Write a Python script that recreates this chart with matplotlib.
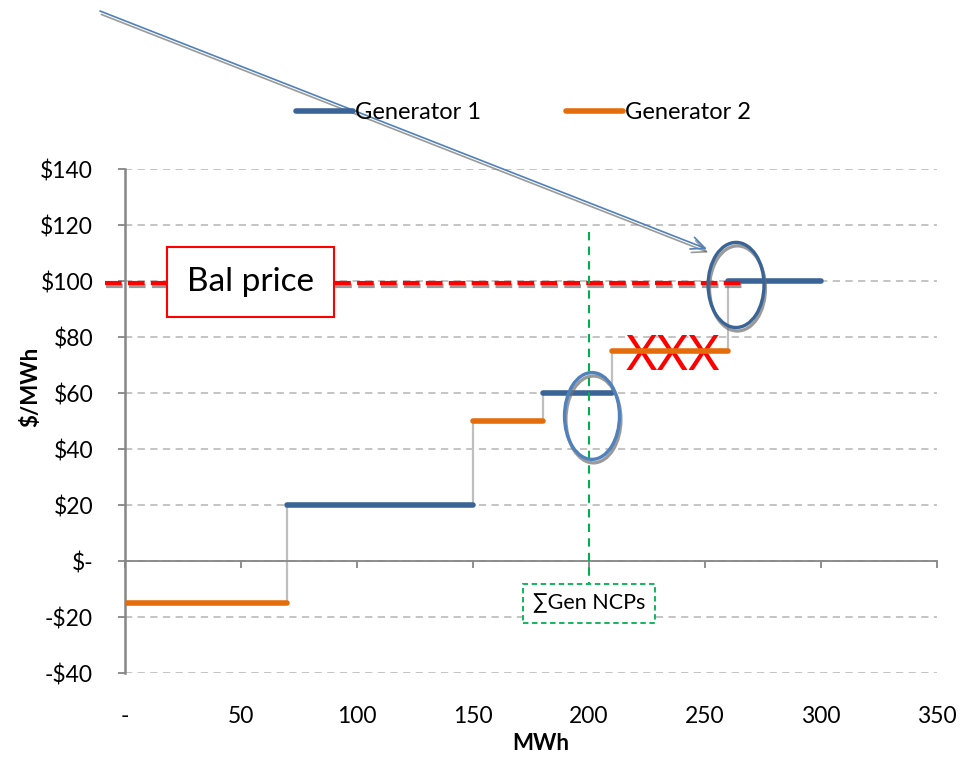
import numpy as np
import matplotlib
matplotlib.use("Agg")
import matplotlib.pyplot as plt
import matplotlib.patheffects as pe
from matplotlib.patches import Ellipse

plt.rcParams['font.family'] = ['Lato', 'DejaVu Sans']

# supply offers: (start MWh, end MWh, price $/MWh)
gen1_offers = [(70, 150, 20), (180, 210, 60), (260, 300, 100)]
gen2_offers = [(0, 70, -15), (150, 180, 50), (210, 260, 75)]
bal_price = 100
sum_ncp = 200

xticks = [0, 50, 100, 150, 200, 250, 300, 350]
xlabels = ["-", "50", "100", "150", "200", "250", "300", "350"]
yticks = [-40, -20, 0, 20, 40, 60, 80, 100, 120, 140]
ylabels = ["-$40", "-$20", "$-", "$20", "$40", "$60", "$80", "$100", "$120", "$140"]

c1 = "#3A6396"
c2 = "#E46C0A"
grid_c = "#BFBFBF"
axis_c = "#868686"

fig = plt.figure(figsize=(9.77, 7.59), dpi=100)
ax = fig.add_axes([0.128, 0.1133, 0.831, 0.664])
ax.set_xlim(0, 350)
ax.set_ylim(-40, 140)

# gridlines
ax.set_yticks(yticks)
ax.set_yticklabels(ylabels)
ax.yaxis.grid(True, color=grid_c, linestyle=(0, (4, 3)), linewidth=1.3)
ax.set_axisbelow(True)

for s in ["top", "right"]:
    ax.spines[s].set_visible(False)
ax.spines["left"].set_color(axis_c)
ax.spines["left"].set_linewidth(1.8)
ax.spines["bottom"].set_position(("data", 0))
ax.spines["bottom"].set_color(axis_c)
ax.spines["bottom"].set_linewidth(1.3)
ax.tick_params(axis="y", colors=axis_c, length=5, width=1.3, pad=18,
               labelcolor="black", labelsize=16.5)
ax.set_xticks(xticks)
ax.tick_params(axis="x", colors=axis_c, length=5, width=1.3, labelbottom=False)

# tick labels sit at the bottom of the plot area
sec = ax.secondary_xaxis(0)
sec.set_xticks(xticks)
sec.set_xticklabels(xlabels)
sec.spines["bottom"].set_visible(False)
sec.tick_params(length=0, pad=24, labelsize=16.5)
sec.set_xlabel("MWh", fontsize=16, fontweight="bold", labelpad=4)
sec.xaxis.label.set_x(0.512)
ax.set_ylabel("$/MWh", fontsize=16, fontweight="bold")
ax.yaxis.set_label_coords(-0.103, 0.567)

# grey risers between steps of the combined stack
offers = sorted(gen1_offers + gen2_offers)
for prev, nxt in zip(offers[:-1], offers[1:]):
    ax.plot([prev[1], nxt[0]], [prev[2], nxt[2]], color=grid_c, lw=1.6, zorder=2)

for i, (x0, x1, p) in enumerate(gen1_offers):
    ax.plot([x0, x1], [p, p], color=c1, lw=4, solid_capstyle="round", zorder=4,
            label="Generator 1" if i == 0 else None)
for i, (x0, x1, p) in enumerate(gen2_offers):
    ax.plot([x0, x1], [p, p], color=c2, lw=4, solid_capstyle="round", zorder=4,
            label="Generator 2" if i == 0 else None)

leg = ax.legend(loc="center", bbox_to_anchor=(0.536, 0.852),
                bbox_transform=fig.transFigure, ncol=2, frameon=False,
                fontsize=17, handlelength=2.4, handletextpad=0.1,
                columnspacing=3.6)

shadow = [pe.SimpleLineShadow(offset=(1, -2.5), shadow_color="#707070", alpha=0.7),
          pe.Normal()]

# balancing price line
ax.plot([-8.6, 266], [bal_price - 0.6, bal_price - 0.6], color="red", lw=3,
        linestyle=(0, (4, 1.5)), clip_on=False, zorder=5, path_effects=shadow)
ax.text(54.0, bal_price - 0.5, "Bal price", fontsize=24, ha="center", va="center",
        zorder=6, bbox=dict(boxstyle="square,pad=0.6", fc="white", ec="red", lw=1.5))

# sum of generator NCPs
ax.plot([sum_ncp, sum_ncp], [117.5, -8], color="#00B050", lw=1.5,
        linestyle=(0, (4, 3)), zorder=5)
ax.text(sum_ncp, -15.2, "\u2211Gen NCPs", fontsize=15.5, ha="center", va="center",
        zorder=6, bbox=dict(boxstyle="square,pad=0.45", fc="white", ec="#00B050",
                            lw=1.3, linestyle=(0, (3, 2))))

ax.text(236, 73.3, "XXX", fontsize=35, color="red", ha="center", va="center",
        zorder=3)

ax.add_patch(Ellipse((263.4, 98.6), 24.1, 30.4, fill=False, ec=c1, lw=2.4,
                     zorder=6, path_effects=shadow))
ax.add_patch(Ellipse((201.3, 51.8), 23.7, 31, fill=False, ec="#4F81BD", lw=2.4,
                     zorder=6, path_effects=shadow))

ax.annotate("", xy=(707 / 977, 1 - 249 / 759), xycoords="figure fraction",
            xytext=(100 / 977, 1 - 11 / 759), textcoords="figure fraction",
            arrowprops=dict(arrowstyle="->,head_length=1.0,head_width=0.45",
                            color="#4F81BD", lw=1.2, shrinkA=0, shrinkB=0,
                            path_effects=shadow))

fig.savefig("out.png", dpi=100)
